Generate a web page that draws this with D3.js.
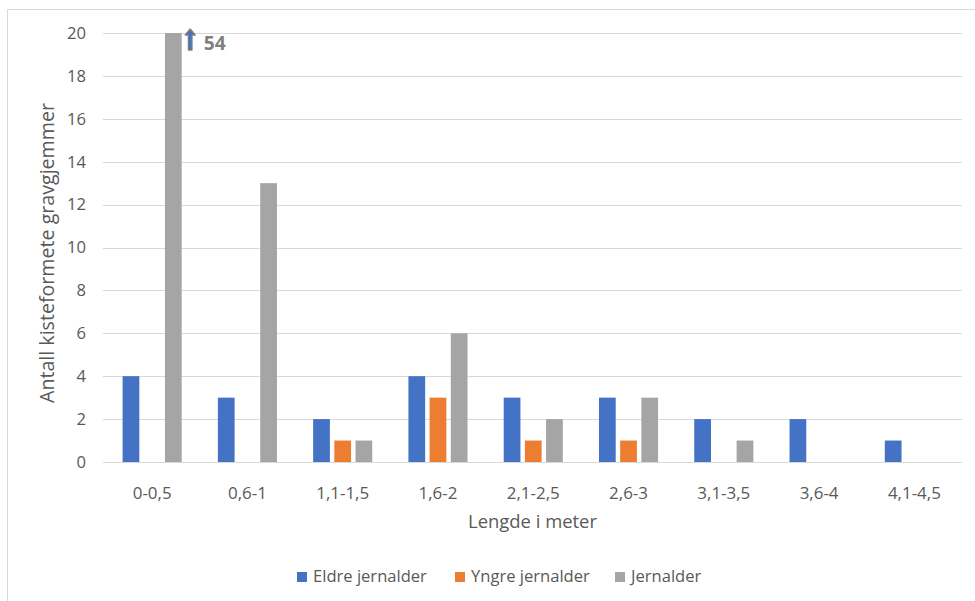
<!DOCTYPE html>
<html>
<head>
<meta charset="utf-8">
<script src="https://cdn.jsdelivr.net/npm/d3@7"></script>
<style>
  html, body { margin: 0; padding: 0; background: #fff; }
  svg { display: block; font-family: "Open Sans", "Liberation Sans", sans-serif; }
</style>
</head>
<body>
<svg id="chart" width="975" height="601"></svg>
<script>
const categories = ["0-0,5", "0,6-1", "1,1-1,5", "1,6-2", "2,1-2,5", "2,6-3", "3,1-3,5", "3,6-4", "4,1-4,5"];
const seriesNames = ["Eldre jernalder", "Yngre jernalder", "Jernalder"];
const eldre = [4, 3, 2, 4, 3, 3, 2, 2, 1];
const yngre = [0, 0, 1, 3, 1, 1, 0, 0, 0];
const jernalder = [54, 13, 1, 6, 2, 3, 1, 0, 0];
const yTicks = [0, 2, 4, 6, 8, 10, 12, 14, 16, 18, 20];
const colors = ["#4472C4", "#ED7D31", "#A5A5A5"];
const seriesValues = [eldre, yngre, jernalder];

const svg = d3.select("#chart");
const textColor = "#595959";
const W = 975, H = 601;

// helper: font size so that a sample string reaches a target width
function fitSize(sample, target, base, weight) {
  const t = svg.append("text").style("font-size", base + "px")
    .style("font-weight", weight || "normal").text(sample);
  const w = t.node().getComputedTextLength();
  t.remove();
  return base * target / w;
}
const fsYTick = fitSize("20", 19, 16);
const fsXTick = fitSize("1,1-1,5", 53, 16);
const fsXTitle = fitSize("Lengde i meter", 129, 16);
const fsYTitle = fitSize("Antall kisteformete gravgjemmer", 300, 16);
const fsLegend = fitSize("Eldre jernalder", 114, 16);
const fsNote = fitSize("54", 22, 16, "bold");

// chart frame
svg.append("rect").attr("x", 7.5).attr("y", 9.5).attr("width", 980).attr("height", 620)
  .attr("fill", "#fff").attr("stroke", "#d9d9d9").attr("stroke-width", 1);

const x0 = d3.scaleBand().domain(categories).range([104.5, 962]).padding(0);
const x1 = d3.scaleBand().domain(seriesNames).range([-29.55, 29.55]).paddingInner(0.21);
const y = d3.scaleLinear().domain([0, 20]).range([462, 33]);

// gridlines
svg.append("g").selectAll("line").data(yTicks).join("line")
  .attr("x1", 103).attr("x2", 962)
  .attr("y1", d => Math.round(y(d)) + 0.5).attr("y2", d => Math.round(y(d)) + 0.5)
  .attr("stroke", "#d9d9d9").attr("stroke-width", 1);

// y tick labels
const yAxis = d3.axisLeft(y).tickValues(yTicks).tickSize(0).tickPadding(17);
const gy = svg.append("g").attr("transform", `translate(103,0)`).call(yAxis);
gy.select(".domain").remove();
gy.selectAll("text").attr("fill", textColor).style("font-size", fsYTick + "px")
  .style("font-family", "'Open Sans', sans-serif");

// x labels
const xAxis = d3.axisBottom(x0).tickSize(0).tickPadding(25);
const gx = svg.append("g").attr("transform", `translate(0,${y(0)})`).call(xAxis);
gx.select(".domain").remove();
gx.selectAll("text").attr("fill", textColor).style("font-size", fsXTick + "px")
  .style("font-family", "'Open Sans', sans-serif");

// bars
const rows = [];
categories.forEach((c, i) => {
  seriesNames.forEach((s, j) => {
    rows.push({ cat: c, series: s, value: seriesValues[j][i], color: colors[j] });
  });
});
svg.append("g").selectAll("rect").data(rows.filter(d => d.value > 0)).join("rect")
  .attr("x", d => x0(d.cat) + x0.bandwidth() / 2 + x1(d.series))
  .attr("width", x1.bandwidth())
  .attr("y", d => y(Math.min(d.value, 20)))
  .attr("height", d => y(0) - y(Math.min(d.value, 20)))
  .attr("fill", d => d.color);

// break annotation for clipped bar
const clipped = rows.find(d => d.value > 20);
if (clipped) {
  const ax = x0(clipped.cat) + x0.bandwidth() / 2 + x1(clipped.series) + x1.bandwidth() + 8.5;
  const top = y(20) - 4;
  const bottom = y(20) + 17;
  svg.append("path")
    .attr("d", `M${ax - 1.8},${bottom} L${ax - 1.8},${top + 6} L${ax - 5},${top + 6} L${ax},${top} L${ax + 5},${top + 6} L${ax + 1.8},${top + 6} L${ax + 1.8},${bottom} Z`)
    .attr("fill", "#4472C4").attr("stroke", "#7f7f7f").attr("stroke-width", 1.3)
    .attr("stroke-linejoin", "round");
  svg.append("text").attr("x", ax + 13.5).attr("y", y(20) + 17)
    .attr("fill", "#7f7f7f").style("font-size", fsNote + "px").style("font-weight", "bold")
    .text(clipped.value);
}

// axis titles
svg.append("text").attr("x", 532.5).attr("y", 528)
  .attr("text-anchor", "middle").attr("fill", textColor).style("font-size", fsXTitle + "px")
  .text("Lengde i meter");
svg.append("text").attr("transform", `translate(54,253) rotate(-90)`)
  .attr("text-anchor", "middle").attr("fill", textColor).style("font-size", fsYTitle + "px")
  .text("Antall kisteformete gravgjemmer");

// legend
const legendX = [297, 455, 615];
const lg = svg.append("g");
seriesNames.forEach((s, i) => {
  lg.append("rect").attr("x", legendX[i]).attr("y", 572).attr("width", 10).attr("height", 10).attr("fill", colors[i]);
  lg.append("text").attr("x", legendX[i] + 16).attr("y", 582).attr("fill", textColor)
    .style("font-size", fsLegend + "px").text(s);
});
</script>
</body>
</html>
